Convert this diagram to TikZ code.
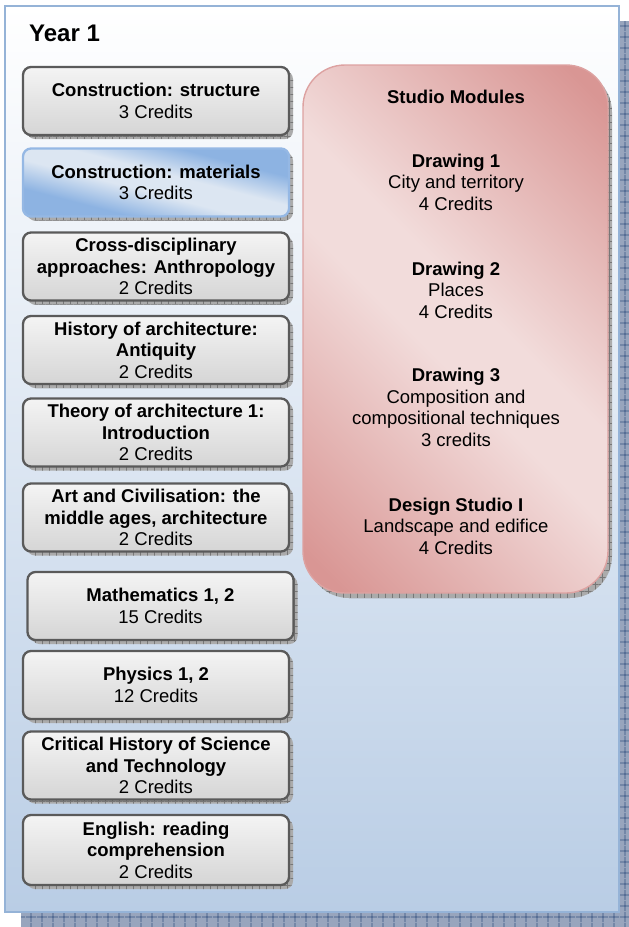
\documentclass[tikz,border=0pt]{standalone}
\usepackage{fontspec}
\setmainfont{Liberation Sans}
\usetikzlibrary{shadows,patterns.meta}

% palette
\definecolor{panelTop}{HTML}{FFFFFF}
\definecolor{panelBottom}{HTML}{B9CDE5}
\definecolor{panelBorder}{HTML}{95B3D7}
\definecolor{panelShadow}{HTML}{98A5BD}
\definecolor{panelShadowLine}{HTML}{34507F}
\definecolor{grayTop}{HTML}{F4F4F4}
\definecolor{grayBottom}{HTML}{D5D5D5}
\definecolor{grayBorder}{HTML}{5A5A5A}
\definecolor{boxShadow}{HTML}{ABABAB}
\definecolor{boxShadowLine}{HTML}{777777}
\definecolor{blueDark}{HTML}{8DB3E2}
\definecolor{blueLight}{HTML}{DCE6F2}
\definecolor{blueBorder}{HTML}{95B8E4}
\definecolor{pinkDark}{HTML}{D99694}
\definecolor{pinkLight}{HTML}{F2DCDB}
\definecolor{pinkBorder}{HTML}{DDA2A1}

% diagonal dark-light-dark fills
\pgfdeclarehorizontalshading{studioshade}{100bp}{color(0bp)=(pinkDark); color(18bp)=(pinkDark);
  color(46bp)=(pinkLight); color(54bp)=(pinkLight); color(82bp)=(pinkDark); color(100bp)=(pinkDark)}
\pgfdeclarehorizontalshading{blueshade}{100bp}{color(0bp)=(blueDark); color(32bp)=(blueDark);
  color(45bp)=(blueLight); color(55bp)=(blueLight); color(68bp)=(blueDark); color(100bp)=(blueDark)}

\newcommand\modulefont{\fontsize{18.5}{21.5}\selectfont}
\newcommand\yearfont{\fontsize{24}{28}\selectfont\bfseries}

\tikzset{
  gridshadow/.style n args={4}{
    general shadow={fill=#1, shadow xshift=#3, shadow yshift=#4},
    general shadow={pattern={Hatch[angle=0,distance=#2,line width=0.6pt]},
      pattern color=boxShadowLine, shadow xshift=#3, shadow yshift=#4}},
  panelbox/.style={draw=panelBorder, line width=1.6pt, inner sep=0pt,
    minimum width=614pt, minimum height=906pt,
    top color=panelTop, bottom color=panelBottom,
    general shadow={fill=panelShadow, shadow xshift=16pt, shadow yshift=-15pt},
    general shadow={pattern={Hatch[angle=0,distance=10.5pt,line width=1pt]},
      pattern color=panelShadowLine, shadow xshift=16pt, shadow yshift=-15pt}},
  modbox/.style={draw=grayBorder, line width=2.3pt, rounded corners=8pt,
    minimum width=266pt, minimum height=68pt, inner sep=0pt,
    top color=grayTop, bottom color=grayBottom,
    align=center, font=\modulefont,
    gridshadow={boxShadow}{7pt}{4pt}{-4pt}},
  bluebox/.style={modbox, draw=blueBorder, shading=blueshade, shading angle=75.5},
  studiobox/.style={draw=pinkBorder, line width=1.4pt, rounded corners=42pt,
    minimum width=305pt, minimum height=528pt, inner sep=0pt,
    shading=studioshade, shading angle=45,
    gridshadow={boxShadow}{7pt}{4pt}{-5pt}},
  studiotext/.style={align=center, font=\modulefont, inner sep=0pt},
}

\begin{document}
\begin{tikzpicture}[x=1pt,y=1pt]
\useasboundingbox (0,0) rectangle (629,-927);

% background panel
\node[panelbox] (panel) at (312,-459) {};
\node[anchor=base west, font=\yearfont, inner sep=0pt] (year) at (29,-41) {Year 1};

% left column of modules
\node[modbox]  (structure) at (156,-101)   {\textbf{Construction: structure}\\3 Credits};
\node[bluebox] (materials) at (156,-182.5) {\textbf{Construction: materials}\\3 Credits};
\node[modbox]  (anthro)    at (156,-266.5) {\textbf{Cross-disciplinary}\\\textbf{approaches: Anthropology}\\2 Credits};
\node[modbox]  (antiquity) at (156,-350)   {\textbf{History of architecture:}\\\textbf{Antiquity}\\2 Credits};
\node[modbox]  (theory)    at (156,-432.5) {\textbf{Theory of architecture 1:}\\\textbf{Introduction}\\2 Credits};
\node[modbox]  (artciv)    at (156,-517.5) {\textbf{Art and Civilisation: the}\\\textbf{middle ages, architecture}\\2 Credits};
\node[modbox]  (maths)     at (160.5,-606) {\textbf{Mathematics 1, 2}\\15 Credits};
\node[modbox]  (physics)   at (156,-685)   {\textbf{Physics 1, 2}\\12 Credits};
\node[modbox]  (science)   at (156,-765.5) {\textbf{Critical History of Science}\\\textbf{and Technology}\\2 Credits};
\node[modbox, minimum height=70pt] (english) at (156,-850) {\textbf{English: reading}\\\textbf{comprehension}\\2 Credits};

% studio modules
\node[studiobox] (studio) at (455.5,-329) {};
\node[studiotext, font=\modulefont\bfseries] (studiotitle) at (456,-97) {Studio Modules};
\node[studiotext] (drawing1) at (456,-182) {\textbf{Drawing 1}\\City and territory\\4 Credits};
\node[studiotext] (drawing2) at (456,-290) {\textbf{Drawing 2}\\Places\\4 Credits};
\node[studiotext] (drawing3) at (456,-407.5) {\textbf{Drawing 3}\\Composition and\\compositional techniques\\3 credits};
\node[studiotext] (design1) at (456,-526) {\textbf{Design Studio I}\\Landscape and edifice\\4 Credits};
\end{tikzpicture}
\end{document}
